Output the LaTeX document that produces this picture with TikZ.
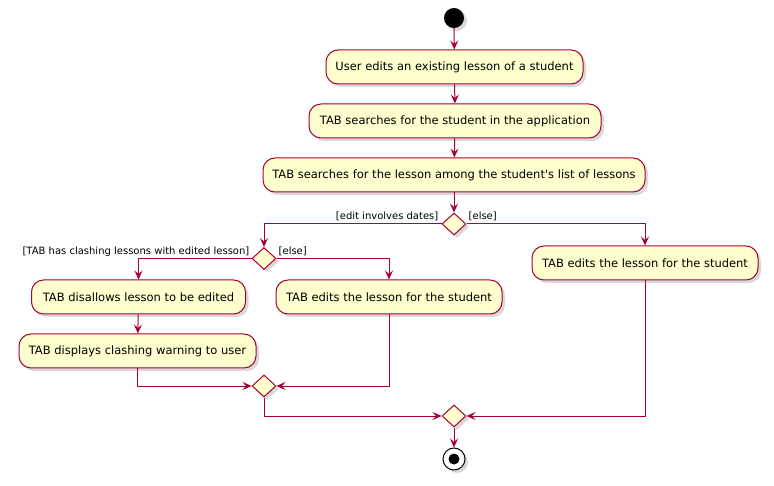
\documentclass[tikz,border=0pt]{standalone}
\usepackage{fontspec}
\setmainfont{DejaVu Sans}[Ligatures=TeXOff]
\usetikzlibrary{arrows.meta,shapes.geometric,shadows}
\definecolor{pborder}{HTML}{A80036}
\definecolor{pfill}{HTML}{FEFECE}
\begin{document}
\begin{tikzpicture}[x=1pt,y=-1pt,
  shad/.style={drop shadow={opacity=0.3,shadow xshift=3pt,shadow yshift=-3pt}},
  act/.style={draw=pborder, fill=pfill, line width=1pt, rounded corners=12pt,
    minimum height=34pt, inner sep=0pt, font=\fontsize{11.5}{13}\selectfont, shad},
  dec/.style={diamond, draw=pborder, fill=pfill, line width=1pt,
    minimum width=24pt, minimum height=22pt, inner sep=0pt, shad},
  flow/.style={draw=pborder, line width=1pt,
    -{Stealth[length=9pt,width=8pt,inset=3.5pt]}},
  lbl/.style={font=\fontsize{10}{12}\selectfont, inner sep=0pt}]
\useasboundingbox (0,0) rectangle (774,486);

\node[circle, fill=black, minimum size=20pt, inner sep=0pt, shad] (start) at (454,18) {};
\node[act, minimum width=257pt] (a1) at (454.5,67) {User edits an existing lesson of a student};
\node[act, minimum width=292pt] (a2) at (455,121) {TAB searches for the student in the application};
\node[act, minimum width=382pt] (a3) at (454,175) {TAB searches for the lesson among the student's list of lessons};
\node[dec] (d1) at (454,224) {};
\node[act, minimum width=226pt] (a4) at (645,263) {TAB edits the lesson for the student};
\node[dec] (d2) at (264,258.5) {};
\node[act, minimum width=214pt] (a5) at (138.5,297) {TAB disallows lesson to be edited};
\node[act, minimum width=226pt] (a6) at (389,297) {TAB edits the lesson for the student};
\node[act, minimum width=237pt] (a7) at (137.5,351) {TAB displays clashing warning to user};
\node[dec] (m1) at (264,386) {};
\node[dec] (m2) at (454,416) {};
\node[circle, draw=black, fill=white, line width=1pt, minimum size=22pt, inner sep=0pt, shad] (stop) at (454,459) {};
\node[circle, fill=black, minimum size=11pt, inner sep=0pt] (stopin) at (stop) {};

\draw[flow] (start) -- (a1);
\draw[flow] (a1) -- (a2);
\draw[flow] (a2) -- (a3);
\draw[flow] (a3) -- (d1);
\draw[flow] (d1.west) -| (d2.north);
\draw[flow] (d1.east) -| (a4.north);
\draw[flow] (d2.west) -| (a5.north);
\draw[flow] (d2.east) -| (a6.north);
\draw[flow] (a5) -- (a7);
\draw[flow] (a7.south) |- (m1.west);
\draw[flow] (a6.south) |- (m1.east);
\draw[flow] (m1.south) |- (m2.west);
\draw[flow] (a4.south) |- (m2.east);
\draw[flow] (m2) -- (stop);

\node[lbl, anchor=base east] (l1) at ([shift={(-3,-4)}]d1.west) {[edit involves dates]};
\node[lbl, anchor=base west] (l2) at ([shift={(2,-4)}]d1.east) {[else]};
\node[lbl, anchor=base east] (l3) at ([shift={(-2,-4)}]d2.west) {[TAB has clashing lessons with edited lesson]};
\node[lbl, anchor=base west] (l4) at ([shift={(2,-4)}]d2.east) {[else]};
\end{tikzpicture}
\end{document}
